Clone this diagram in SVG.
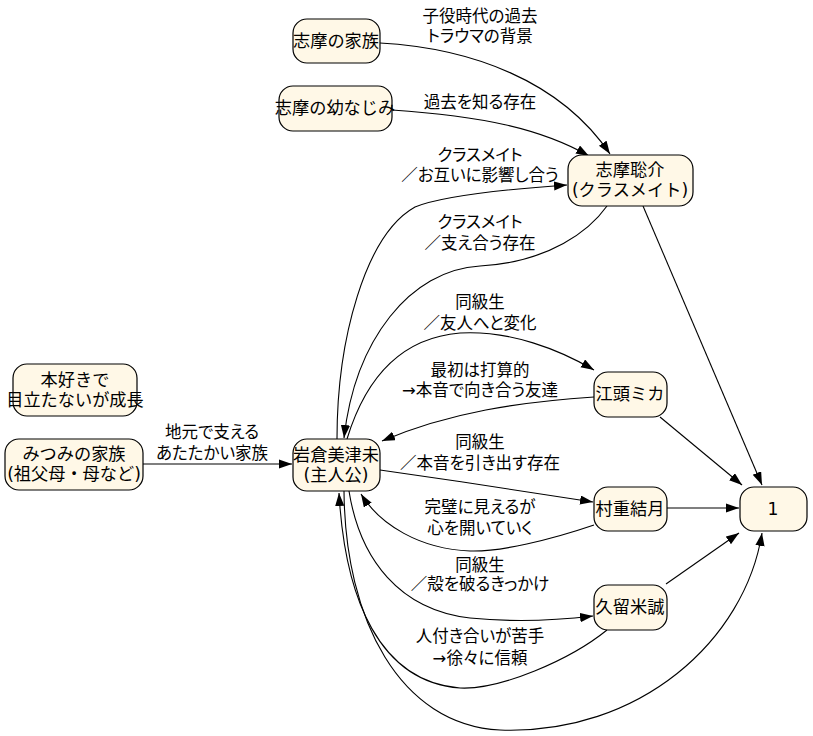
<svg xmlns="http://www.w3.org/2000/svg" width="813" height="736" viewBox="0 0 813 736">
<style>
text{font-family:"DejaVu Sans","Noto Sans CJK JP",sans-serif;font-size:16.5px;fill:#000;text-anchor:middle;dominant-baseline:central;font-feature-settings:"palt";}
.n text{font-size:17.2px;font-feature-settings:normal;}
.n rect{fill:#fff8e7;stroke:#000;stroke-width:1.2;}
.e path{fill:none;stroke:#000;stroke-width:1.1;marker-end:url(#ah);}
</style>
<defs>
<marker id="ah" markerUnits="userSpaceOnUse" markerWidth="13" markerHeight="10" refX="13" refY="4.6" orient="auto">
<path d="M0,0 L13,4.6 L0,9.2 z" fill="#000"/>
</marker>
</defs>
<g id="edges" class="e">
<path d="M380,43 C470,48 560,80 610,154"/>
<path d="M392,110 C480,116 540,128 589,156"/>
<path d="M337,439 C337,340 365,235 415,207 C445,195 510,189 567,185"/>
<path d="M607,206 C590,230 550,262 480,266 C410,270 355,340 344,438"/>
<path d="M347,439 C365,380 400,338 460,333 C510,330 560,350 594,370"/>
<path d="M594,397 C520,402 450,412 382,441"/>
<path d="M380,470 C450,480 530,492 593,502"/>
<path d="M594,525 C550,540 500,552 470,551 C420,549 380,525 361,494"/>
<path d="M349,491 C360,560 400,610 470,618 C520,623 560,620 593,616"/>
<path d="M607,630 C570,660 500,690 460,688 C380,682 345,600 339,493"/>
<path d="M344,491 C345,620 400,725 500,730 C640,735 745,640 762,533"/>
<path d="M643,206 L762,485"/>
<path d="M660,417 L742,485"/>
<path d="M667,508 L739,508"/>
<path d="M666,584 L739,533"/>
<path d="M143,464 L292,464"/>
</g>
<g id="edge-labels">
<text x="480" y="16">子役時代の過去</text>
<text x="480" y="36">トラウマの背景</text>
<text x="480" y="102">過去を知る存在</text>
<text x="480" y="155">クラスメイト</text>
<text x="480" y="175">／お互いに影響し合う</text>
<text x="480" y="222">クラスメイト</text>
<text x="480" y="243">／支え合う存在</text>
<text x="480" y="302">同級生</text>
<text x="480" y="323">／友人へと変化</text>
<text x="480" y="370">最初は打算的</text>
<text x="480" y="390">→本音で向き合う友達</text>
<text x="480" y="442">同級生</text>
<text x="480" y="463">／本音を引き出す存在</text>
<text x="480" y="507">完璧に見えるが</text>
<text x="480" y="528">心を開いていく</text>
<text x="480" y="565">同級生</text>
<text x="480" y="584">／殻を破るきっかけ</text>
<text x="480" y="636">人付き合いが苦手</text>
<text x="480" y="658">→徐々に信頼</text>
<text x="212" y="432">地元で支える</text>
<text x="212" y="453">あたたかい家族</text>
</g>
<g id="shima-family" class="n"><rect x="293" y="19" width="87" height="44" rx="14"/><text x="336" y="41">志摩の家族</text></g>
<g id="shima-osananajimi" class="n"><rect x="279" y="86" width="113" height="45" rx="14"/><text x="335" y="108">志摩の幼なじみ</text></g>
<g id="shima" class="n"><rect x="568" y="155" width="125" height="51" rx="14"/><text x="630" y="170">志摩聡介</text><text x="630" y="190">(クラスメイト)</text></g>
<g id="honzuki" class="n"><rect x="13" y="364" width="124" height="52" rx="14"/><text x="75" y="380">本好きで</text><text x="75" y="400">目立たないが成長</text></g>
<g id="mitsumi-family" class="n"><rect x="5" y="439" width="138" height="51" rx="14"/><text x="74" y="454">みつみの家族</text><text x="74" y="474">(祖父母・母など)</text></g>
<g id="iwakura" class="n"><rect x="293" y="439" width="87" height="52" rx="14"/><text x="336" y="455">岩倉美津未</text><text x="336" y="475">(主人公)</text></g>
<g id="egashira" class="n"><rect x="594" y="372" width="73" height="45" rx="14"/><text x="630" y="394">江頭ミカ</text></g>
<g id="murashige" class="n"><rect x="594" y="487" width="73" height="44" rx="14"/><text x="630" y="509">村重結月</text></g>
<g id="kurume" class="n"><rect x="594" y="585" width="73" height="45" rx="14"/><text x="630" y="607">久留米誠</text></g>
<g id="one" class="n"><rect x="740" y="487" width="67" height="44" rx="14"/><text x="773" y="509">1</text></g>
</svg>
